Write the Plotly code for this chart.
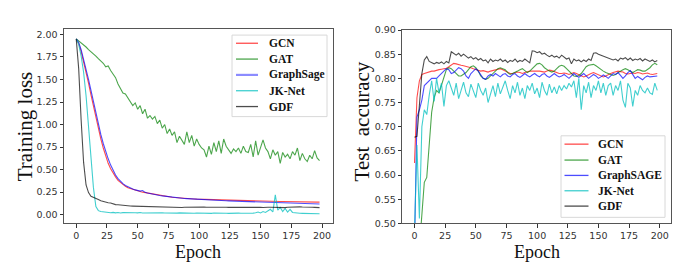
import plotly.graph_objects as go

epochs = list(range(0, 200, 2))

# ---------------- Training loss ----------------
gcn_loss = [1.95, 1.90, 1.81, 1.70, 1.58, 1.46, 1.33, 1.20, 1.07, 0.95, 0.84, 0.74, 0.65, 0.57, 0.51, 0.46, 0.42, 0.38, 0.355, 0.335,
            0.315, 0.30, 0.29, 0.28, 0.272, 0.265, 0.258, 0.25, 0.245, 0.238, 0.232, 0.226, 0.222, 0.216, 0.212, 0.208, 0.204, 0.200, 0.197, 0.194,
            0.191, 0.188, 0.186, 0.184, 0.182, 0.180, 0.178, 0.176, 0.175, 0.173, 0.172,
            0.170, 0.169, 0.168, 0.167, 0.166, 0.166, 0.165, 0.164, 0.163, 0.162, 0.161, 0.160, 0.160, 0.159, 0.158, 0.157, 0.157, 0.156, 0.155,
            0.154, 0.154, 0.153, 0.152, 0.152, 0.151, 0.150, 0.150, 0.149, 0.148, 0.148, 0.147, 0.147, 0.146, 0.146, 0.145, 0.145, 0.144, 0.144,
            0.143, 0.143, 0.142, 0.142, 0.142, 0.141, 0.141, 0.141, 0.140, 0.140, 0.140]
gat_loss = [1.95, 1.93, 1.91, 1.89, 1.86, 1.83, 1.81, 1.79, 1.76, 1.73, 1.71, 1.68, 1.64, 1.65, 1.60, 1.56, 1.52, 1.45, 1.40, 1.35,
            1.34, 1.30, 1.26, 1.21, 1.24, 1.17, 1.21, 1.12, 1.17, 1.07, 1.10, 1.06, 1.09, 1.01, 1.05, 0.96, 1.00, 0.90, 0.95, 0.88,
            0.92, 0.80, 0.87, 0.83, 0.78, 0.92, 0.80, 0.88, 0.76, 0.84, 0.78,
            0.74, 0.72, 0.64, 0.76, 0.67, 0.80, 0.70, 0.82, 0.68, 0.84, 0.76, 0.72, 0.68, 0.73, 0.70, 0.74, 0.68, 0.76, 0.70,
            0.69, 0.78, 0.64, 0.82, 0.66, 0.76, 0.83, 0.74, 0.70, 0.62, 0.72, 0.66, 0.70, 0.57, 0.69, 0.64, 0.67, 0.62, 0.70,
            0.66, 0.74, 0.60, 0.68, 0.62, 0.59, 0.66, 0.62, 0.71, 0.63, 0.60]
sage_loss = [1.95, 1.91, 1.83, 1.73, 1.62, 1.50, 1.38, 1.25, 1.12, 1.00, 0.89, 0.79, 0.70, 0.62, 0.55, 0.49, 0.44, 0.40, 0.37, 0.345,
             0.325, 0.31, 0.295, 0.285, 0.275, 0.268, 0.262, 0.268, 0.248, 0.24, 0.233, 0.227, 0.222, 0.217, 0.213, 0.209, 0.205, 0.201, 0.198, 0.194,
             0.191, 0.188, 0.185, 0.183, 0.180, 0.178, 0.176, 0.174, 0.172, 0.170, 0.168,
             0.167, 0.165, 0.164, 0.163, 0.161, 0.160, 0.159, 0.157, 0.156, 0.155, 0.154, 0.153, 0.152, 0.150, 0.149, 0.148, 0.147, 0.146, 0.145,
             0.144, 0.143, 0.142, 0.141, 0.140, 0.139, 0.138, 0.137, 0.136, 0.135, 0.134, 0.134, 0.133, 0.132, 0.131, 0.130, 0.130, 0.129, 0.128,
             0.127, 0.127, 0.126, 0.125, 0.124, 0.124, 0.123, 0.122, 0.121, 0.120, 0.118]
jk_loss = [1.95, 1.89, 1.76, 1.58, 1.32, 0.98, 0.62, 0.30, 0.09, 0.045, 0.035, 0.03, 0.028, 0.025, 0.022, 0.026, 0.02, 0.024, 0.019, 0.023,
           0.021, 0.02, 0.022, 0.018, 0.021, 0.02, 0.024, 0.019, 0.02, 0.018, 0.022, 0.02, 0.019, 0.021, 0.018, 0.02, 0.019, 0.017, 0.02, 0.018,
           0.019, 0.017, 0.02, 0.018, 0.016, 0.019, 0.017, 0.018, 0.016, 0.019, 0.017,
           0.018, 0.016, 0.018, 0.017, 0.015, 0.018, 0.016, 0.017, 0.015, 0.018, 0.016, 0.015, 0.017, 0.016, 0.015, 0.017, 0.016, 0.015, 0.018,
           0.016, 0.02, 0.018, 0.022, 0.03, 0.02, 0.035, 0.025, 0.04, 0.06, 0.03, 0.22, 0.05, 0.08, 0.035, 0.07, 0.03, 0.06, 0.025,
           0.02, 0.018, 0.016, 0.015, 0.014, 0.013, 0.012, 0.012, 0.011, 0.011, 0.010]
gdf_loss = [1.95, 1.62, 1.05, 0.58, 0.33, 0.245, 0.205, 0.19, 0.18, 0.168, 0.155, 0.145, 0.138, 0.133, 0.13, 0.118, 0.112, 0.11, 0.106, 0.104,
            0.10, 0.098, 0.096, 0.095, 0.094, 0.092, 0.091, 0.09, 0.089, 0.088, 0.087, 0.086, 0.086, 0.085, 0.084, 0.083, 0.082, 0.080, 0.078, 0.082,
            0.080, 0.079, 0.076, 0.080, 0.082, 0.083, 0.081, 0.085, 0.083, 0.082, 0.084,
            0.083, 0.085, 0.082, 0.083, 0.084, 0.082, 0.085, 0.083, 0.084, 0.082, 0.083, 0.081, 0.082, 0.080, 0.082, 0.081, 0.080, 0.082, 0.084,
            0.088, 0.086, 0.083, 0.081, 0.084, 0.083, 0.080, 0.078, 0.082, 0.083, 0.081, 0.079, 0.083, 0.082, 0.080, 0.078, 0.082, 0.084, 0.083,
            0.081, 0.086, 0.087, 0.085, 0.086, 0.084, 0.083, 0.082, 0.081, 0.080, 0.078]

# ---------------- Test accuracy ----------------
gcn_acc = [0.625, 0.76, 0.795, 0.808, 0.81, 0.812, 0.813, 0.815, 0.815, 0.817, 0.818, 0.819, 0.82, 0.821, 0.824, 0.828, 0.831, 0.83, 0.828, 0.827,
           0.826, 0.825, 0.824, 0.822, 0.82, 0.818, 0.817, 0.815, 0.816, 0.815, 0.813, 0.815, 0.816, 0.817, 0.818, 0.82, 0.818, 0.815, 0.812, 0.81,
           0.81, 0.812, 0.813, 0.812, 0.81, 0.812, 0.814, 0.815, 0.815, 0.815, 0.816,
           0.815, 0.814, 0.813, 0.815, 0.817, 0.816, 0.814, 0.812, 0.81, 0.81, 0.811, 0.81, 0.808, 0.81, 0.812, 0.81, 0.808, 0.805, 0.803,
           0.805, 0.808, 0.81, 0.812, 0.81, 0.807, 0.805, 0.803, 0.805, 0.808, 0.81, 0.812, 0.814, 0.815, 0.814, 0.813, 0.81, 0.809, 0.81,
           0.811, 0.81, 0.812, 0.811, 0.809, 0.81, 0.811, 0.809, 0.808, 0.809, 0.81]
gat_acc = [0.40, 0.40, 0.45, 0.52, 0.585, 0.595, 0.66, 0.73, 0.76, 0.775, 0.77, 0.785, 0.80, 0.818, 0.822, 0.82, 0.815, 0.81, 0.805, 0.805,
           0.808, 0.812, 0.818, 0.824, 0.826, 0.822, 0.815, 0.805, 0.80, 0.798, 0.80, 0.805, 0.81, 0.815, 0.82, 0.822, 0.82, 0.818, 0.812, 0.808,
           0.81, 0.812, 0.815, 0.818, 0.82, 0.816, 0.812, 0.815, 0.82, 0.826, 0.83,
           0.831, 0.828, 0.822, 0.818, 0.815, 0.813, 0.815, 0.82, 0.825, 0.827, 0.825, 0.82, 0.815, 0.81, 0.805, 0.804, 0.806, 0.81, 0.818,
           0.824, 0.827, 0.828, 0.829, 0.826, 0.822, 0.818, 0.815, 0.812, 0.81, 0.808, 0.806, 0.808, 0.812, 0.815, 0.818, 0.82, 0.818, 0.815,
           0.812, 0.815, 0.818, 0.817, 0.815, 0.815, 0.818, 0.822, 0.828, 0.831, 0.828]
sage_acc = [0.45, 0.72, 0.735, 0.755, 0.785, 0.79, 0.795, 0.80, 0.80, 0.80, 0.805, 0.81, 0.815, 0.82, 0.818, 0.81, 0.812, 0.818, 0.822, 0.82,
            0.815, 0.805, 0.80, 0.81, 0.815, 0.82, 0.815, 0.808, 0.80, 0.798, 0.805, 0.808, 0.805, 0.81, 0.806, 0.803, 0.808, 0.81, 0.805, 0.803,
            0.808, 0.81, 0.805, 0.802, 0.806, 0.81, 0.806, 0.803, 0.807, 0.81, 0.806,
            0.803, 0.808, 0.81, 0.805, 0.802, 0.806, 0.81, 0.806, 0.803, 0.805, 0.808, 0.804, 0.80, 0.805, 0.81, 0.806, 0.802, 0.806, 0.81,
            0.805, 0.80, 0.804, 0.808, 0.805, 0.80, 0.803, 0.807, 0.804, 0.80, 0.805, 0.81, 0.808, 0.812, 0.806, 0.80, 0.805, 0.812, 0.816,
            0.808, 0.80, 0.804, 0.80, 0.797, 0.802, 0.805, 0.803, 0.804, 0.805, 0.805]
jk_acc = [0.48, 0.662, 0.51, 0.70, 0.735, 0.725, 0.765, 0.795, 0.752, 0.80, 0.77, 0.79, 0.742, 0.785, 0.795, 0.78, 0.765, 0.79, 0.758, 0.775,
          0.792, 0.77, 0.762, 0.788, 0.776, 0.76, 0.79, 0.775, 0.765, 0.78, 0.75, 0.77, 0.785, 0.762, 0.79, 0.768, 0.78, 0.795, 0.775, 0.758,
          0.785, 0.77, 0.792, 0.765, 0.78, 0.758, 0.785, 0.775, 0.79, 0.768, 0.78,
          0.76, 0.792, 0.775, 0.765, 0.788, 0.77, 0.782, 0.768, 0.785, 0.775, 0.785, 0.778, 0.79, 0.782, 0.795, 0.76, 0.80, 0.735, 0.785,
          0.77, 0.792, 0.76, 0.785, 0.775, 0.795, 0.77, 0.79, 0.765, 0.785, 0.79, 0.765, 0.785, 0.775, 0.795, 0.755, 0.74, 0.79, 0.78,
          0.742, 0.775, 0.765, 0.785, 0.775, 0.77, 0.78, 0.77, 0.767, 0.79, 0.775]
gdf_acc = [0.678, 0.68, 0.745, 0.81, 0.838, 0.845, 0.835, 0.832, 0.83, 0.833, 0.831, 0.834, 0.83, 0.835, 0.832, 0.855, 0.852, 0.848, 0.852, 0.846,
           0.85, 0.845, 0.842, 0.845, 0.84, 0.843, 0.838, 0.841, 0.836, 0.838, 0.832, 0.84, 0.835, 0.838, 0.836, 0.84, 0.835, 0.838, 0.833, 0.837,
           0.835, 0.84, 0.834, 0.837, 0.835, 0.84, 0.836, 0.832, 0.857, 0.856, 0.853,
           0.855, 0.85, 0.852, 0.848, 0.845, 0.848, 0.844, 0.846, 0.842, 0.848, 0.843, 0.84, 0.842, 0.83, 0.84, 0.836, 0.838, 0.834, 0.838,
           0.835, 0.84, 0.837, 0.852, 0.853, 0.85, 0.848, 0.846, 0.844, 0.843, 0.841, 0.838, 0.84, 0.836, 0.842, 0.84, 0.843, 0.838, 0.842,
           0.837, 0.84, 0.838, 0.841, 0.836, 0.84, 0.837, 0.835, 0.838, 0.834, 0.837]

loss_names = ["GCN", "GAT", "GraphSage", "JK-Net", "GDF"]
acc_names = ["GCN", "GAT", "GraphSAGE", "JK-Net", "GDF"]
colors = ["rgba(255,0,0,0.7)", "rgba(0,128,0,0.7)", "rgba(0,0,255,0.7)", "rgba(0,191,191,0.75)", "rgba(0,0,0,0.7)"]
loss_series = [gcn_loss, gat_loss, sage_loss, jk_loss, gdf_loss]
acc_series = [gcn_acc, gat_acc, sage_acc, jk_acc, gdf_acc]

W, H = 684, 269

fig = go.Figure()
for name, ys, c in zip(loss_names, loss_series, colors):
    fig.add_trace(go.Scatter(x=epochs, y=ys, mode="lines", name=name, showlegend=False,
                             line=dict(color=c, width=1.1), xaxis="x", yaxis="y"))
for name, ys, c in zip(acc_names, acc_series, colors):
    fig.add_trace(go.Scatter(x=epochs, y=ys, mode="lines", name=name, showlegend=False,
                             line=dict(color=c, width=1.1), xaxis="x2", yaxis="y2"))

tickfont = dict(family="DejaVu Sans", size=9.5, color="#333")
axis_common = dict(showgrid=False, zeroline=False, showline=True, mirror=True, linecolor="#555", linewidth=1,
                   ticks="outside", ticklen=3.5, tickwidth=0.8, tickcolor="#333", tickfont=tickfont)

fig.update_layout(
    width=W, height=H, margin=dict(l=0, r=0, t=0, b=0),
    paper_bgcolor="white", plot_bgcolor="white", showlegend=False,
    xaxis=dict(domain=[56 / W, 325 / W], range=[-9.95, 208.95], tickvals=[0, 25, 50, 75, 100, 125, 150, 175, 200],
               anchor="y", **axis_common),
    yaxis=dict(domain=[1 - 218 / H, 1 - 16 / H], range=[-0.093, 2.056], tickvals=[0, 0.25, 0.5, 0.75, 1.0, 1.25, 1.5, 1.75, 2.0],
               tickformat=".2f", anchor="x", **axis_common),
    xaxis2=dict(domain=[394.3 / W, 662.7 / W], range=[-9.95, 208.95], tickvals=[0, 25, 50, 75, 100, 125, 150, 175, 200],
                anchor="y2", **axis_common),
    yaxis2=dict(domain=[1 - 218.3 / H, 1 - 16.7 / H], range=[0.5, 0.9],
                tickvals=[0.5, 0.55, 0.6, 0.65, 0.7, 0.75, 0.8, 0.85, 0.9], tickformat=".2f", anchor="x2", **axis_common),
)


def px(x):
    return x / W


def py(y):
    return 1 - y / H


def draw_legend(box, line_x, text_x, rows, names):
    x0, y0, x1, y1 = box
    fig.add_shape(type="rect", xref="paper", yref="paper", x0=px(x0), x1=px(x1), y0=py(y1), y1=py(y0),
                  line=dict(color="#d8d8d8", width=1), fillcolor="white", layer="above")
    for i, (name, yy) in enumerate(zip(names, rows)):
        lc = colors[i]
        lw = 1.3
        if name == "GraphSage":
            lc, lw = "rgba(0,0,255,0.45)", 2.2
        fig.add_shape(type="line", xref="paper", yref="paper", x0=px(line_x[0]), x1=px(line_x[1]),
                      y0=py(yy), y1=py(yy), line=dict(color=lc, width=lw), layer="above")
        fig.add_annotation(text=name, x=px(text_x), y=py(yy), xref="paper", yref="paper", showarrow=False,
                           xanchor="left", yanchor="middle",
                           font=dict(family="Liberation Serif", size=11.5, color="#111", weight="bold"))


draw_legend((224, 22, 319, 107), (228, 250), 259, [30.5, 47, 63.5, 80, 96.5], loss_names)
draw_legend((553, 127, 657, 212), (556.5, 580.5), 588, [135.7, 152.3, 168.3, 184.3, 200.3], acc_names)

fig.add_annotation(text="Training loss", x=px(17), y=py(117), xref="paper", yref="paper", textangle=-90,
                   showarrow=False, font=dict(family="Liberation Serif", size=21, color="#111"),
                   xanchor="center", yanchor="middle")
fig.add_annotation(text="Test\u00a0 accuracy", x=px(354), y=py(112), xref="paper", yref="paper", textangle=-90,
                   showarrow=False, font=dict(family="Liberation Serif", size=21, color="#111"),
                   xanchor="center", yanchor="middle")
title_font = dict(family="Liberation Serif", size=18, color="#111")
fig.add_annotation(text="Epoch", x=px(190), y=py(248), xref="paper", yref="paper",
                   showarrow=False, font=title_font, xanchor="center", yanchor="middle")
fig.add_annotation(text="Epoch", x=px(529), y=py(248), xref="paper", yref="paper",
                   showarrow=False, font=title_font, xanchor="center", yanchor="middle")

fig.write_html("out.html")
